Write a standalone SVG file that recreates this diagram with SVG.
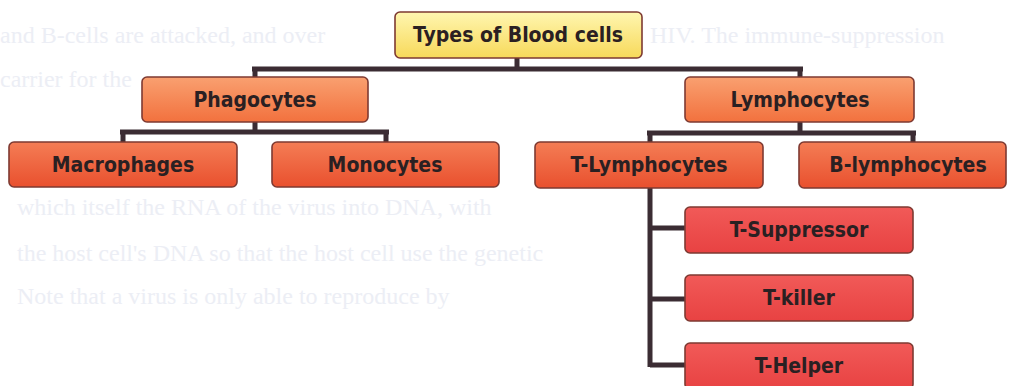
<svg xmlns="http://www.w3.org/2000/svg" width="1014" height="386" viewBox="0 0 1014 386">
<defs>
<linearGradient id="gy" x1="0" y1="0" x2="0" y2="1"><stop offset="0" stop-color="#fff6b0"/><stop offset="1" stop-color="#f7d95a"/></linearGradient>
<linearGradient id="go" x1="0" y1="0" x2="0" y2="1"><stop offset="0" stop-color="#f9a070"/><stop offset="1" stop-color="#f2713e"/></linearGradient>
<linearGradient id="gr" x1="0" y1="0" x2="0" y2="1"><stop offset="0" stop-color="#f47d55"/><stop offset="1" stop-color="#e9502e"/></linearGradient>
<linearGradient id="gt" x1="0" y1="0" x2="0" y2="1"><stop offset="0" stop-color="#f15a58"/><stop offset="1" stop-color="#e84242"/></linearGradient>
</defs>
<style>
.bg{font-family:"Liberation Serif","Times New Roman",serif;font-size:24px;fill:#eceef5}
.box{stroke:#7e3a32;stroke-width:1.6}
.lbl{font-family:"DejaVu Sans Condensed","DejaVu Sans",sans-serif;font-weight:bold;font-size:21px;fill:#2a2022;text-anchor:middle}
.c{stroke:#3b2c33;stroke-width:5;fill:none;stroke-linecap:butt}
</style>
<rect width="1014" height="386" fill="#ffffff"/>
<g id="background-text">
<text class="bg" x="0" y="43">and B-cells are attacked, and over</text>
<text class="bg" x="650" y="43">HIV. The immune-suppression</text>
<text class="bg" x="0" y="87">carrier for the</text>
<text class="bg" x="17" y="215">which itself the RNA of the virus into DNA, with</text>
<text class="bg" x="17" y="261">the host cell's DNA so that the host cell use the genetic</text>
<text class="bg" x="17" y="304">Note that a virus is only able to reproduce by</text>
</g>
<g id="connectors">
<path class="c" d="M517 58V69M252 69H803M255 69V77M800 69V77"/>
<path class="c" d="M255 122V132M120 132H389M123 132V142M386 132V142"/>
<path class="c" d="M800 122V133M647 133H916M650 133V142M913 133V142"/>
<path class="c" d="M650 188V367M650 228H685M650 299H685M650 365H685"/>
</g>
<g id="n-title"><rect class="box" x="395" y="12" width="247" height="46" rx="5" fill="url(#gy)"/><text class="lbl" x="518" y="42">Types of Blood cells</text></g>
<g id="n-phagocytes"><rect class="box" x="142" y="77" width="226" height="45" rx="5" fill="url(#go)"/><text class="lbl" x="255" y="107">Phagocytes</text></g>
<g id="n-lymphocytes"><rect class="box" x="685" y="77" width="229" height="45" rx="5" fill="url(#go)"/><text class="lbl" x="800" y="107">Lymphocytes</text></g>
<g id="n-macrophages"><rect class="box" x="9" y="142" width="228" height="45" rx="5" fill="url(#gr)"/><text class="lbl" x="123" y="172">Macrophages</text></g>
<g id="n-monocytes"><rect class="box" x="272" y="142" width="227" height="45" rx="5" fill="url(#gr)"/><text class="lbl" x="385" y="172">Monocytes</text></g>
<g id="n-tlymph"><rect class="box" x="535" y="142" width="228" height="46" rx="5" fill="url(#gr)"/><text class="lbl" x="649" y="172">T-Lymphocytes</text></g>
<g id="n-blymph"><rect class="box" x="799" y="142" width="207" height="46" rx="5" fill="url(#gr)"/><text class="lbl" x="908" y="172">B-lymphocytes</text></g>
<g id="n-tsupp"><rect class="box" x="685" y="207" width="228" height="46" rx="5" fill="url(#gt)"/><text class="lbl" x="799" y="237">T-Suppressor</text></g>
<g id="n-tkiller"><rect class="box" x="685" y="275" width="228" height="46" rx="5" fill="url(#gt)"/><text class="lbl" x="799" y="305">T-killer</text></g>
<g id="n-thelper"><rect class="box" x="685" y="343" width="228" height="46" rx="5" fill="url(#gt)"/><text class="lbl" x="799" y="373">T-Helper</text></g>
</svg>
